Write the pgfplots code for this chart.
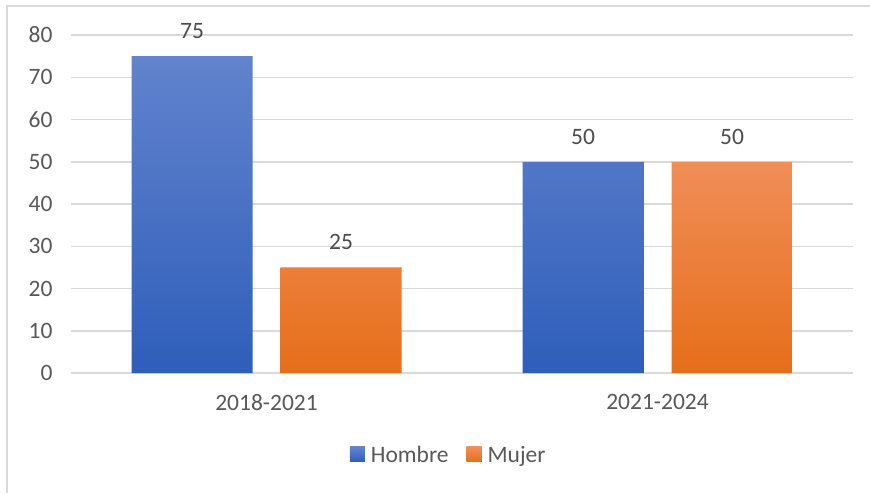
\documentclass[border=0pt]{standalone}
\usepackage{pgfplots}
\pgfplotsset{compat=1.18}
\usepackage{fontspec}
\setmainfont{Carlito}
\definecolor{txt}{HTML}{595959}
\definecolor{gridc}{HTML}{D9D9D9}
\definecolor{bluetop}{RGB}{98,131,205}
\definecolor{bluebot}{RGB}{46,94,186}
\definecolor{orgtop}{RGB}{240,142,88}
\definecolor{orgbot}{RGB}{230,110,25}
\begin{document}
\begin{tikzpicture}[x=1pt,y=1pt]
\useasboundingbox (0,0) rectangle (870,493);
\fill[white] (0,0) rectangle (870,493);
\draw[gridc, line width=1.5pt] (7,0) -- (7,487) -- (870,487);
\begin{axis}[
  at={(71pt,120pt)}, anchor=south west,
  width=782pt, height=338pt, scale only axis,
  /pgf/number format/assume math mode=true,
  ybar=28pt, bar width=121pt,
  ymin=0, ymax=80, ytick={0,10,...,80},
  xmin=-0.5, xmax=1.5, xtick={0,1}, xticklabels={2018-2021,2021-2024},
  axis line style={draw=none},
  ymajorgrids, grid style={gridc, line width=1.5pt},
  major tick length=0pt,
  tick label style={font=\fontsize{23.5}{28}\selectfont, text=txt},
  yticklabel style={xshift=-15pt},
  xticklabel style={yshift=-18pt},
  nodes near coords,
  every node near coord/.append style={font=\fontsize{23.5}{28}\selectfont, text=txt!85!black, yshift=14pt},
  legend style={at={(0.483,-0.2426)}, anchor=center, draw=none, fill=none,
    legend columns=2, font=\fontsize{23.5}{28}\selectfont, text=txt,
    /tikz/every odd column/.append style={column sep=4pt},
    /tikz/every even column/.append style={column sep=16pt}},
  legend image code/.code={\fill[#1] (0pt,-7pt) rectangle (15pt,8pt);},
]
\addplot[draw=none, top color=bluetop, bottom color=bluebot] coordinates {(0,75) (1,50)};
\addplot[draw=none, top color=orgtop, bottom color=orgbot] coordinates {(0,25) (1,50)};
\legend{Hombre, Mujer}
\end{axis}
\end{tikzpicture}
\end{document}
